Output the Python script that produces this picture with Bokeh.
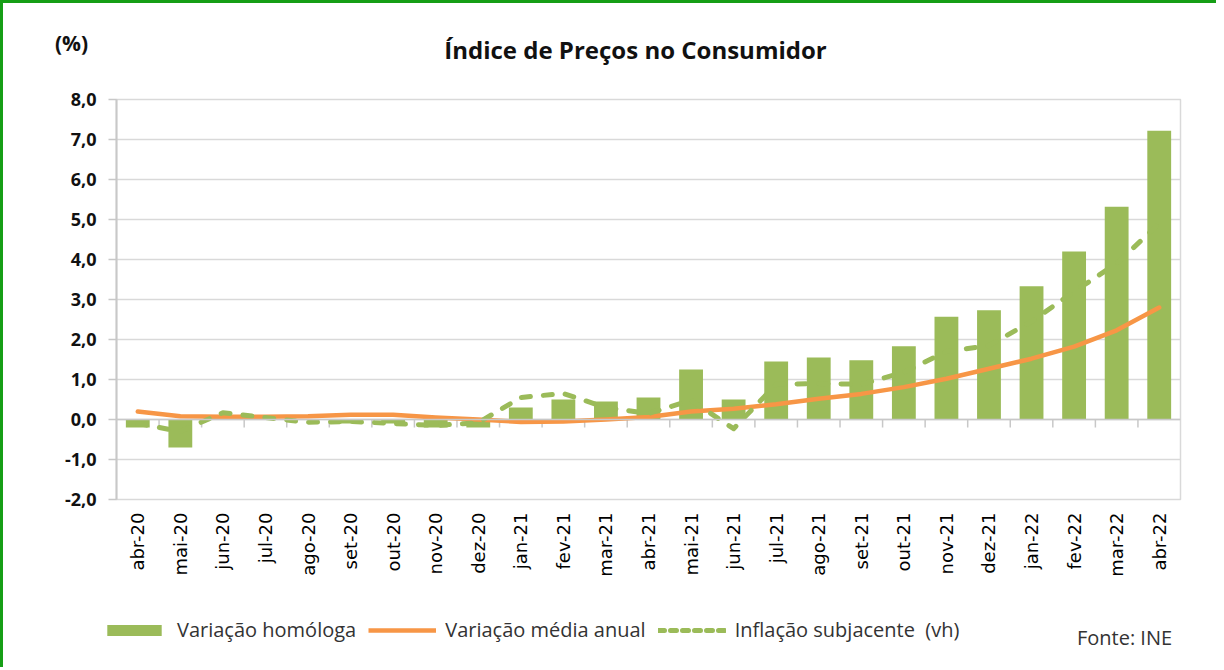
import math
from bokeh.plotting import figure
from bokeh.layouts import column
from bokeh.models import FixedTicker, Span, Legend, LegendItem, Label, ColumnDataSource
from bokeh.embed import file_html
from bokeh.resources import INLINE

# ---- data ----
categories = ["abr-20", "mai-20", "jun-20", "jul-20", "ago-20", "set-20", "out-20",
              "nov-20", "dez-20", "jan-21", "fev-21", "mar-21", "abr-21", "mai-21",
              "jun-21", "jul-21", "ago-21", "set-21", "out-21", "nov-21", "dez-21",
              "jan-22", "fev-22", "mar-22", "abr-22"]
variacao_homologa = [-0.2, -0.7, 0.1, 0.0, 0.0, -0.1, -0.1, -0.2, -0.2, 0.3, 0.5, 0.45,
                     0.55, 1.25, 0.5, 1.45, 1.55, 1.48, 1.83, 2.57, 2.73, 3.33, 4.2, 5.32, 7.22]
variacao_media_anual = [0.2, 0.08, 0.07, 0.07, 0.08, 0.12, 0.12, 0.05, 0.0, -0.06, -0.05, 0.0,
                        0.06, 0.2, 0.27, 0.38, 0.52, 0.64, 0.81, 1.02, 1.27, 1.52, 1.82, 2.23, 2.8]
inflacao_subjacente = [-0.1, -0.3, 0.17, 0.05, -0.07, -0.05, -0.1, -0.15, -0.08, 0.55, 0.65, 0.3,
                       0.15, 0.48, -0.23, 0.88, 0.9, 0.88, 1.18, 1.7, 1.85, 2.45, 3.2, 3.9, 4.9]
y_ticks = [-2, -1, 0, 1, 2, 3, 4, 5, 6, 7, 8]
y_tick_labels = ["-2,0", "-1,0", "0,0", "1,0", "2,0", "3,0", "4,0", "5,0", "6,0", "7,0", "8,0"]
series_names = ["Variação homóloga", "Variação média anual", "Inflação subjacente  (vh)"]

idx = list(range(len(categories)))
src = ColumnDataSource(dict(x=idx, hom=variacao_homologa, med=variacao_media_anual,
                            sub=inflacao_subjacente))

GREEN = "#9BBB59"
ORANGE = "#F79646"
GRID = "#d9d9d9"
BORDER = "3px solid #169e16"
W = 1216


def blank(height, top_border, xr=(0, 1), yr=(0, 1)):
    f = figure(width=W, height=height, x_range=xr, y_range=yr,
               output_backend="svg", toolbar_location=None,
               x_axis_type=None, y_axis_type=None,
               min_border_left=0, min_border_right=0, min_border_top=0, min_border_bottom=0)
    f.frame_align = False
    f.grid.visible = False
    f.outline_line_color = None
    f.background_fill_color = "white"
    f.border_fill_color = "white"
    st = {"border-left": BORDER}
    if top_border:
        st["border-top"] = BORDER
    f.styles = st
    return f


# ---- header: title and unit ----
ph = blank(80, True)
ph.add_layout(Label(x=632, y=34, x_units="screen", y_units="screen",
                    text="Índice de Preços no Consumidor", text_align="center",
                    text_baseline="alphabetic", text_font="Open Sans",
                    text_font_style="bold", text_font_size="24px", text_color="#111111"))
ph.add_layout(Label(x=68, y=41, x_units="screen", y_units="screen", text="(%)",
                    text_align="center", text_baseline="middle", text_font="Open Sans",
                    text_font_style="bold", text_font_size="21px", text_color="#111111"))

# ---- main chart ----
p = figure(width=W, height=517, x_range=(-0.5, len(categories) - 0.5), y_range=(-2, 8),
           output_backend="svg", toolbar_location=None,
           min_border_left=113, min_border_right=39, min_border_top=19, min_border_bottom=98)
p.frame_align = False
p.styles = {"border-left": BORDER}
p.outline_line_color = GRID
p.outline_line_width = 1.5
p.background_fill_color = "white"
p.border_fill_color = "white"

p.xgrid.grid_line_color = None
p.ygrid.ticker = FixedTicker(ticks=y_ticks)
p.ygrid.grid_line_color = GRID
p.ygrid.grid_line_width = 1.5

p.yaxis.ticker = FixedTicker(ticks=y_ticks)
p.yaxis.major_label_overrides = dict(zip(y_ticks, y_tick_labels))
p.yaxis.axis_line_color = "#c8c8c8"
p.yaxis.axis_line_width = 2
p.yaxis.major_tick_line_color = "#c8c8c8"
p.yaxis.major_tick_line_width = 1.5
p.yaxis.major_tick_out = 8
p.yaxis.major_tick_in = 0
p.yaxis.minor_tick_line_color = None
p.yaxis.major_label_standoff = 12
p.yaxis.major_label_text_font = "Open Sans"
p.yaxis.major_label_text_font_style = "bold"
p.yaxis.major_label_text_font_size = "18px"
p.yaxis.major_label_text_color = "#111111"

p.xaxis.ticker = FixedTicker(ticks=idx)
p.xaxis.major_label_overrides = dict(zip(idx, categories))
p.xaxis.axis_line_color = None
p.xaxis.major_tick_line_color = None
p.xaxis.minor_tick_line_color = None
p.xaxis.major_tick_out = 0
p.xaxis.major_label_standoff = 13
p.xaxis.major_label_orientation = math.pi / 2
p.xaxis.major_label_text_font = "DejaVu Sans"
p.xaxis.major_label_text_font_size = "18px"
p.xaxis.major_label_text_color = "#000000"

p.add_layout(Span(location=0, dimension="width", line_color="#c8c8c8", line_width=1.5))
bounds = [i + 0.5 for i in idx[:-1]]
p.segment(x0=bounds, y0=[0] * len(bounds), x1=bounds, y1=[-0.2] * len(bounds),
          line_color="#c8c8c8", line_width=1.5)

p.vbar(x="x", top="hom", width=0.56, source=src, fill_color=GREEN, line_color=None)
p.line(x="x", y="med", source=src, line_color=ORANGE, line_width=4.5,
       line_join="round", line_cap="round")
p.line(x="x", y="sub", source=src, line_color=GREEN, line_width=5,
       line_dash="9 13", line_cap="round", line_join="round")

# ---- footer: legend and source (legend swatches use renderers kept out of view) ----
pl = blank(70, False, xr=(-100, -99), yr=(-100, -99))
lg_bar = pl.vbar(x="x", top="hom", width=0.56, source=src, fill_color=GREEN, line_color=None)
lg_med = pl.line(x="x", y="med", source=src, line_color=ORANGE, line_width=4.5)
lg_sub = pl.line(x="x", y="sub", source=src, line_color=GREEN, line_width=5,
                 line_dash="6 6", line_cap="round")
legend = Legend(items=[LegendItem(label=series_names[0], renderers=[lg_bar]),
                       LegendItem(label=series_names[1], renderers=[lg_med]),
                       LegendItem(label=series_names[2], renderers=[lg_sub])],
                orientation="horizontal", location=(97, 24),
                glyph_width=68, glyph_height=14, label_standoff=9, spacing=12,
                padding=0, margin=0, border_line_color=None, background_fill_alpha=0,
                label_text_font="Open Sans", label_text_font_size="20px",
                label_text_color="#333333", label_height=20)
pl.add_layout(legend)
pl.add_layout(Label(x=1121, y=30, x_units="screen", y_units="screen", text="Fonte: INE",
                    text_align="center", text_baseline="middle", text_font="Open Sans",
                    text_font_size="20px", text_color="#333333"))

layout = column(ph, p, pl, spacing=0)
open("out.html", "w").write(file_html(layout, INLINE))
